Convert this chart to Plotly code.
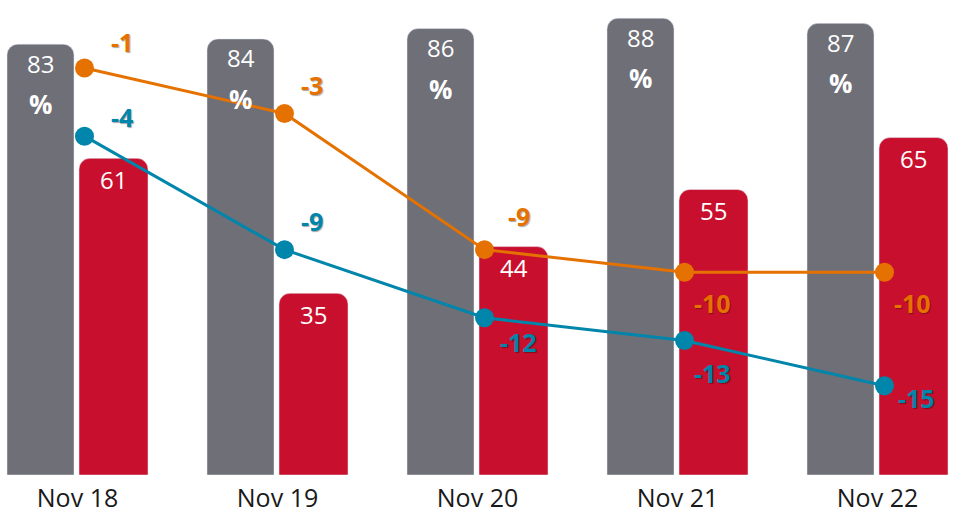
import plotly.graph_objects as go

categories = ["Nov 18", "Nov 19", "Nov 20", "Nov 21", "Nov 22"]
grey_values = [83, 84, 86, 88, 87]
red_values = [61, 35, 44, 55, 65]
orange_values = [-1, -3, -9, -10, -10]
teal_values = [-4, -9, -12, -13, -15]

# label placement (pixel shifts) for line labels
orange_shift = [(37, 26), (27, 28), (34, 34), (28, -31), (28, -31)]
teal_shift = [(37, 19), (27, 29), (34, -24), (28, -33), (32, -12)]

GREY = "#6f6f78"
RED = "#c8102e"
ORANGE = "#e57200"
TEAL = "#0085ab"
FONT = "Open Sans"

xs = list(range(len(categories)))

fig = go.Figure()
fig.add_trace(go.Bar(x=xs, y=grey_values, marker_color=GREY, width=0.335, offset=-0.3525,
                     hoverinfo="skip", showlegend=False))
fig.add_trace(go.Bar(x=xs, y=red_values, marker_color=RED, width=0.345, offset=0.0075,
                     hoverinfo="skip", showlegend=False))
fig.add_trace(go.Scatter(x=xs, y=orange_values, mode="lines+markers", xaxis="x2", yaxis="y2",
                         line=dict(color=ORANGE, width=3), marker=dict(color=ORANGE, size=19),
                         showlegend=False, hoverinfo="skip"))
fig.add_trace(go.Scatter(x=xs, y=teal_values, mode="lines+markers", xaxis="x2", yaxis="y2",
                         line=dict(color=TEAL, width=3), marker=dict(color=TEAL, size=19),
                         showlegend=False, hoverinfo="skip"))

ann = []
for i, v in enumerate(grey_values):
    ann.append(dict(x=i - 0.185, y=v, xref="x", yref="y", text=str(v), showarrow=False,
                    yshift=-19, font=dict(family=FONT, size=24, color="white")))
    ann.append(dict(x=i - 0.185, y=v, xref="x", yref="y", text="<b>%</b>", showarrow=False,
                    yshift=-60, font=dict(family=FONT, size=26, color="white")))
for i, v in enumerate(red_values):
    ann.append(dict(x=i + 0.18, y=v, xref="x", yref="y", text=str(v), showarrow=False,
                    yshift=-21, font=dict(family=FONT, size=24, color="white")))
for vals, shifts, col in [(orange_values, orange_shift, ORANGE), (teal_values, teal_shift, TEAL)]:
    for i, v in enumerate(vals):
        ann.append(dict(x=i, y=v, xref="x2", yref="y2", text="<b>%d</b>" % v, showarrow=False,
                        xanchor="center", xshift=shifts[i][0], yshift=shifts[i][1],
                        font=dict(family=FONT, size=25, color=col,
                                  shadow="1px 1px 1px rgba(0,0,0,0.35)")))

xr = [-0.3875, 4.3775]
fig.update_layout(
    width=953, height=521,
    margin=dict(l=0, r=0, t=0, b=46, autoexpand=False),
    plot_bgcolor="white", paper_bgcolor="white",
    barcornerradius=11,
    annotations=ann,
    xaxis=dict(range=xr, tickvals=xs, ticktext=categories, showgrid=False, zeroline=False,
               showline=False, ticks="", ticklabelstandoff=6,
               tickfont=dict(family=FONT, size=25, color="#1a1a1a")),
    xaxis2=dict(range=[xr[0] - 0.035, xr[1] - 0.035], overlaying="x", visible=False),
    yaxis=dict(range=[0, 91.5], visible=False),
    yaxis2=dict(range=[-18.93, 2.0], overlaying="y", visible=False),
)
fig.write_html("out.html", config={"displayModeBar": False},
               post_script="document.body.style.margin='0';")
